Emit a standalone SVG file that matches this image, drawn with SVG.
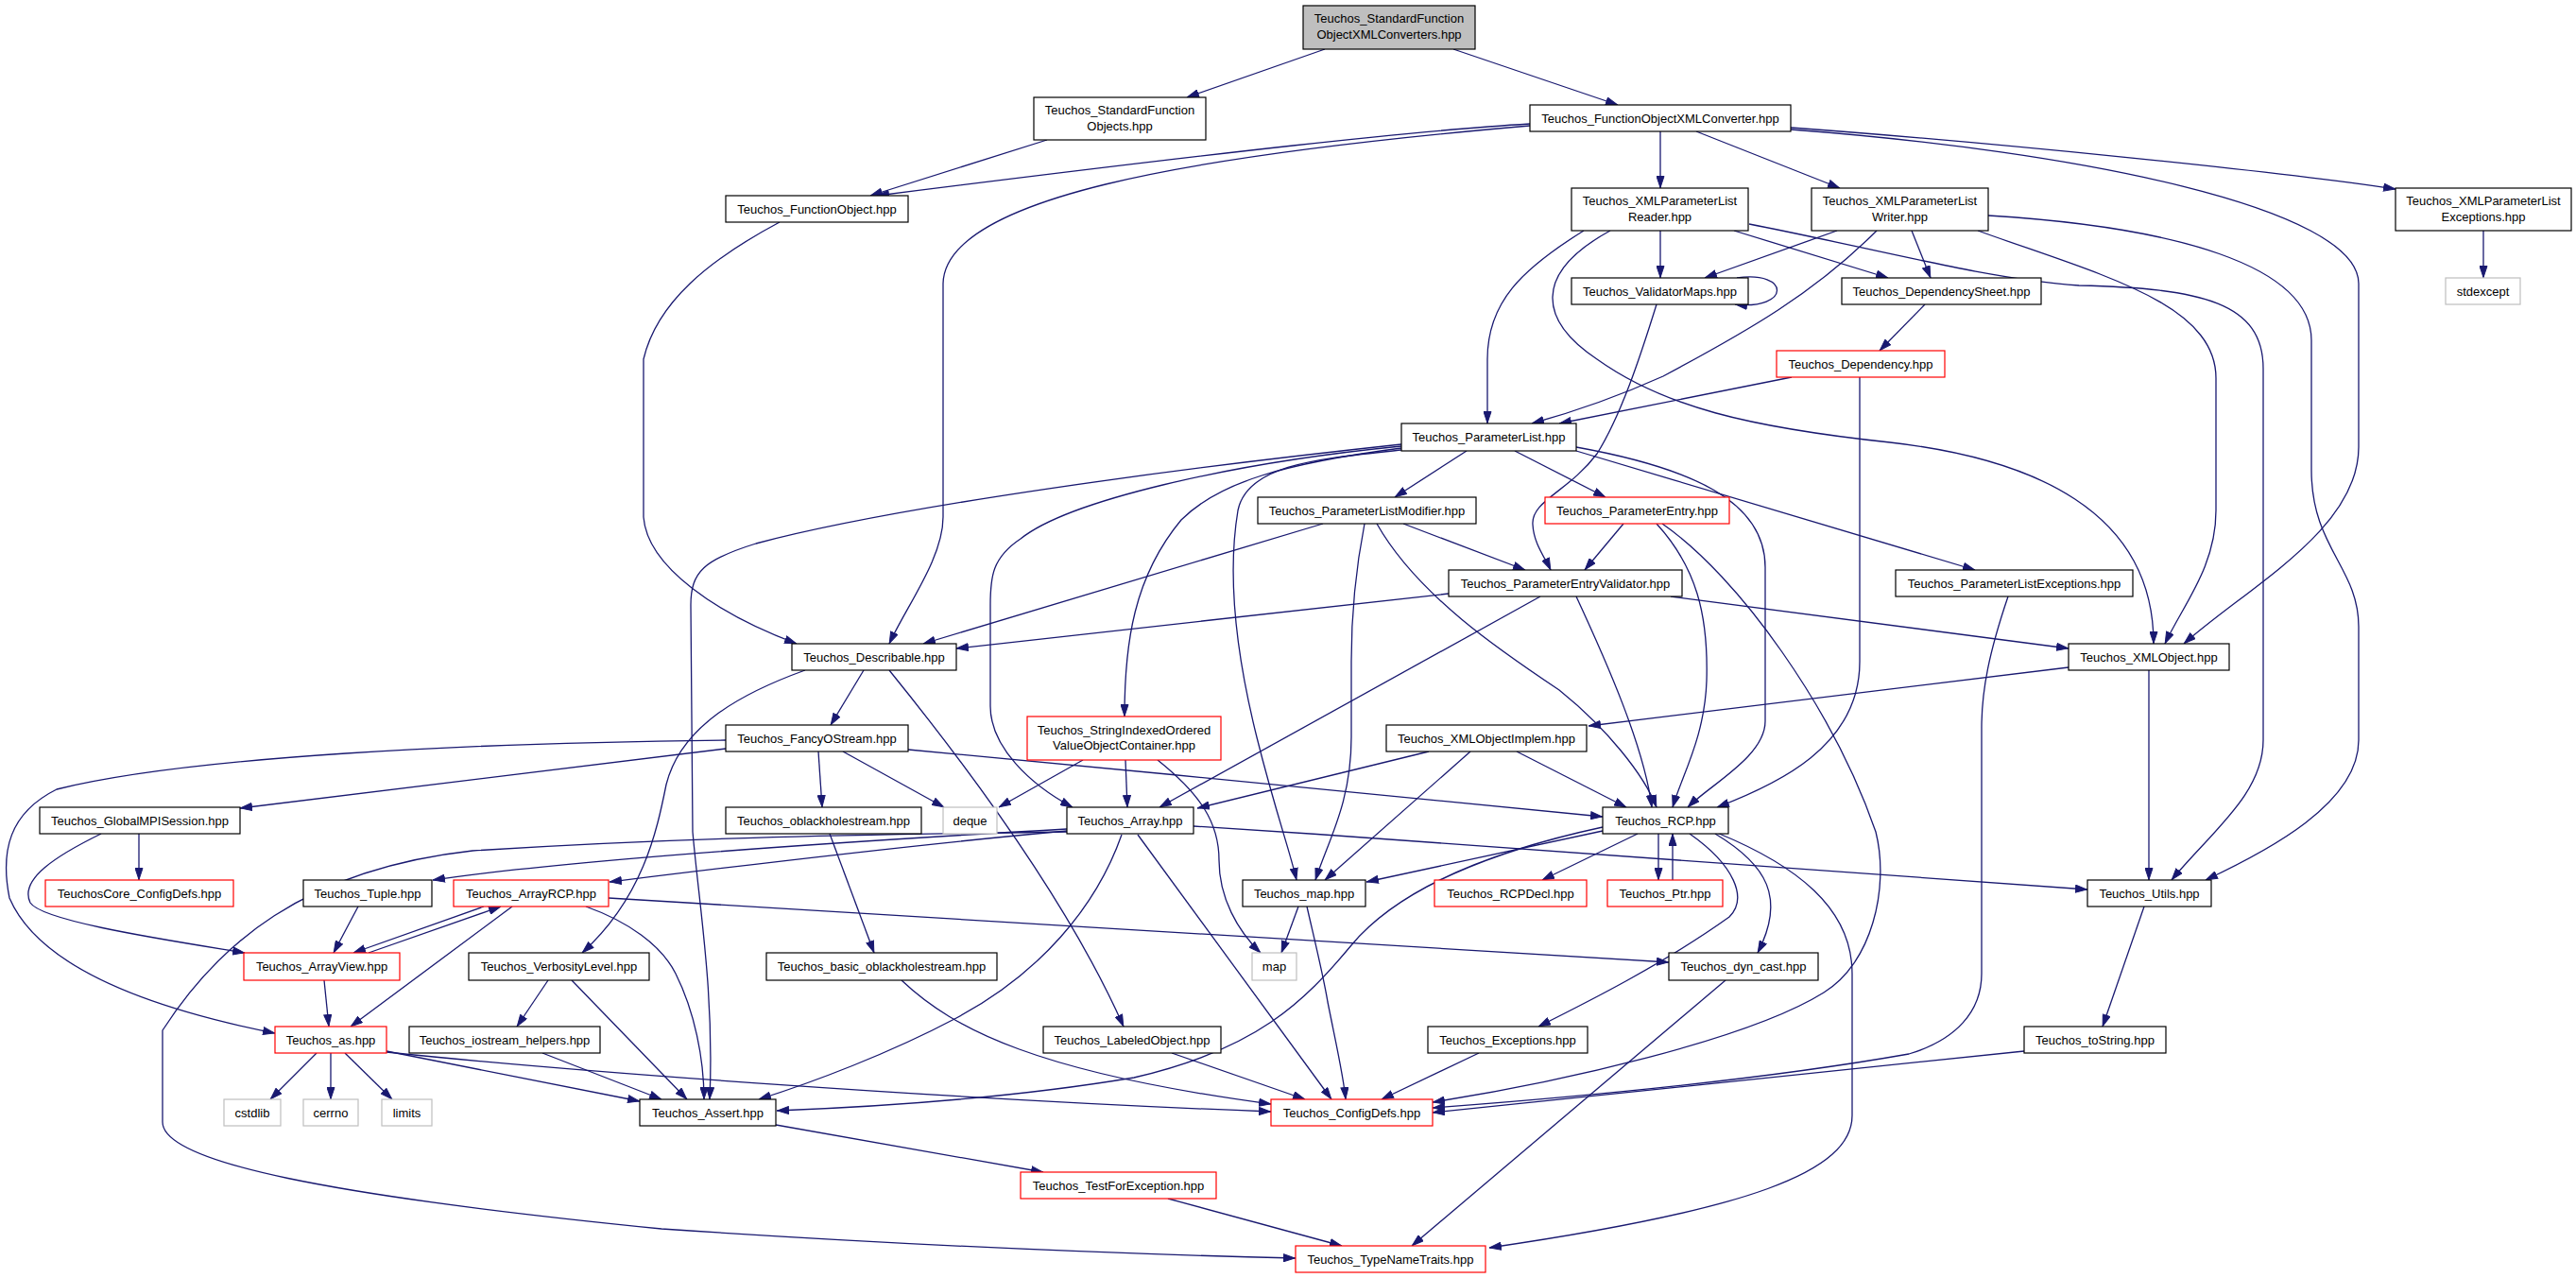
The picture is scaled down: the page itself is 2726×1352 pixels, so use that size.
<svg xmlns="http://www.w3.org/2000/svg" width="2726" height="1352" viewBox="0 0 2726 1352">
<defs>
<style>
.n rect{fill:#fff;stroke:#000;stroke-width:1.2}
.n.r rect{stroke:#ff0000}
.n.g rect{stroke:#bfbfbf}
.n.root rect{fill:#bfbfbf}
text{font-family:"Liberation Sans",Arial,Helvetica,sans-serif;font-size:13px;text-anchor:middle;fill:#000}
#edges path{fill:none;stroke:#191970;stroke-width:1.3;marker-end:url(#a)}
</style>
<marker id="a" viewBox="0 0 13 9" refX="13" refY="4.5" markerWidth="13" markerHeight="9" markerUnits="userSpaceOnUse" orient="auto">
<path d="M0.5,0.5 L12.5,4.5 L0.5,8.5 z" fill="#191970" stroke="#191970" stroke-width="1"/>
</marker>
</defs>
<rect width="2726" height="1352" fill="#fff"/>
<g id="edges">
<path d="M1402,52 L1256,103"/>
<path d="M1538,52 L1712,111"/>
<path d="M1108,148 L921,207"/>
<path d="M1619,131 C1500,138 1300,160 928,207"/>
<path d="M1619,133 C1250,165 1000,210 998,300 L998,547 C998,590 960,640 941,681"/>
<path d="M1757,139 L1757,199"/>
<path d="M1795,139 L1947,199"/>
<path d="M1895,135 C2100,150 2400,180 2535,200"/>
<path d="M1895,137 C2200,160 2496,220 2496,300 L2496,473 C2496,560 2380,620 2311,681"/>
<path d="M1676,244 C1610,285 1574,320 1574,380 L1574,448"/>
<path d="M1704,244 C1620,290 1630,340 1690,380 C1760,430 1850,452 2000,468 C2150,485 2279,540 2279,681"/>
<path d="M1757,244 L1757,294"/>
<path d="M1835,244 L1998,294"/>
<path d="M1851,237 C1980,262 2100,295 2200,302 C2330,305 2395,320 2395,390 L2395,783 C2395,840 2340,880 2298,931"/>
<path d="M1944,244 L1804,294"/>
<path d="M1986,244 C1920,310 1850,350 1760,398 C1700,425 1650,440 1621,448"/>
<path d="M2023,244 L2043,294"/>
<path d="M2093,244 C2220,290 2345,320 2345,400 L2345,540 C2345,600 2310,640 2291,681"/>
<path d="M2104,228 C2300,240 2446,280 2446,360 L2446,497 C2446,580 2496,600 2496,663 L2496,783 C2496,850 2400,900 2334,931"/>
<path d="M1838,294 C1895,286 1895,328 1836,322"/>
<path d="M1753,322 C1735,380 1715,440 1690,480 C1660,520 1620,530 1622,555 C1623,575 1635,590 1641,603"/>
<path d="M2037,322 L1989,371"/>
<path d="M1896,399 L1650,448"/>
<path d="M1968,399 L1968,700 C1968,790 1880,830 1817,854"/>
<path d="M2628,244 L2628,294"/>
<path d="M1552,477 L1476,526"/>
<path d="M1603,477 L1699,526"/>
<path d="M1668,473 C1790,495 1868,530 1868,600 L1868,763 C1868,800 1810,830 1786,854"/>
<path d="M1668,477 L2090,603"/>
<path d="M1483,470 C1250,495 950,535 800,575 C745,592 731,605 731,640 L733,880 C740,960 756,1050 751,1163"/>
<path d="M1483,472 C1300,490 1130,530 1080,570 C1050,590 1048,610 1048,640 L1048,747 C1048,790 1090,830 1135,854"/>
<path d="M1483,474 C1360,490 1290,510 1250,550 C1200,610 1190,680 1190,758"/>
<path d="M1483,476 C1400,485 1320,490 1310,540 C1300,600 1305,680 1330,780 C1350,860 1365,900 1372,931"/>
<path d="M1485,554 L1614,603"/>
<path d="M1457,554 C1500,630 1590,690 1650,730 C1700,770 1740,820 1753,854"/>
<path d="M1444,554 C1435,600 1430,650 1430,700 L1430,780 C1430,850 1405,890 1392,931"/>
<path d="M1400,554 L977,681"/>
<path d="M1718,554 L1677,603"/>
<path d="M1753,554 C1795,600 1808,650 1806,720 C1804,780 1780,820 1770,854"/>
<path d="M1759,554 C1840,610 1940,750 1985,880 C2000,940 1980,1020 1930,1050 C1850,1100 1650,1145 1516,1166"/>
<path d="M1533,628 L1012,686"/>
<path d="M1630,631 L1227,854"/>
<path d="M1668,631 C1700,700 1740,790 1748,854"/>
<path d="M1768,631 L2189,686"/>
<path d="M914,709 L879,767"/>
<path d="M941,709 Q1120,930 1189,1086"/>
<path d="M852,709 C780,735 720,770 705,830 C695,880 680,950 616,1008"/>
<path d="M866,795 L870,854"/>
<path d="M892,795 L999,854"/>
<path d="M961,793 C1200,815 1500,845 1696,864"/>
<path d="M768,783 C500,786 200,800 60,835 C10,860 0,900 10,950 C40,1020 150,1065 291,1093"/>
<path d="M768,792 L254,855"/>
<path d="M1146,804 L1057,854"/>
<path d="M1191,804 L1193,854"/>
<path d="M1225,804 C1270,840 1290,870 1290,910 C1290,950 1310,985 1334,1008"/>
<path d="M1512,795 L1267,855"/>
<path d="M1605,795 L1721,854"/>
<path d="M1556,795 L1402,931"/>
<path d="M2189,706 L1681,768"/>
<path d="M2274,709 L2274,931"/>
<path d="M147,882 L147,931"/>
<path d="M107,882 C60,905 20,930 32,955 C45,975 180,995 259,1008"/>
<path d="M1129,877 C900,890 600,910 458,931"/>
<path d="M1129,879 C950,895 750,920 645,933"/>
<path d="M1129,880 C950,883 750,884 500,900 C320,920 230,1000 172,1090 L172,1187 C172,1230 350,1265 700,1300 C1000,1320 1200,1327 1371,1331"/>
<path d="M1263,874 C1600,895 1950,925 2209,941"/>
<path d="M1187,883 C1160,960 1100,1030 1012,1077 C940,1115 860,1145 803,1163"/>
<path d="M1204,883 L1409,1163"/>
<path d="M1696,879 L1446,933"/>
<path d="M1696,875 C1580,900 1480,940 1430,1000 C1380,1060 1330,1110 1200,1140 C1050,1165 900,1172 822,1175"/>
<path d="M1733,882 L1632,931"/>
<path d="M1755,882 L1755,931"/>
<path d="M1770,931 L1770,882"/>
<path d="M1788,882 C1835,915 1850,950 1830,970 C1760,1020 1680,1060 1628,1086"/>
<path d="M1815,882 C1870,915 1890,950 1860,1008"/>
<path d="M1817,881 C1900,915 1960,960 1960,1030 L1960,1180 C1960,1240 1850,1280 1576,1320"/>
<path d="M1826,1037 L1494,1318"/>
<path d="M1565,1114 L1462,1163"/>
<path d="M2142,1112 L1516,1177"/>
<path d="M2125,631 C2105,690 2097,730 2097,770 L2097,1030 C2097,1070 2070,1100 2020,1115 C1850,1145 1650,1162 1516,1172"/>
<path d="M1374,959 L1356,1008"/>
<path d="M1383,959 C1390,990 1400,1030 1405,1060 C1415,1110 1422,1140 1424,1163"/>
<path d="M512,959 L374,1008"/>
<path d="M390,1008 L530,959"/>
<path d="M542,959 L371,1086"/>
<path d="M620,959 C665,975 700,1000 715,1030 C735,1070 745,1120 745,1163"/>
<path d="M644,950 L1766,1018"/>
<path d="M379,959 L353,1008"/>
<path d="M343,1037 L348,1086"/>
<path d="M580,1037 L547,1086"/>
<path d="M605,1037 L727,1163"/>
<path d="M574,1114 L700,1163"/>
<path d="M335,1114 L286,1163"/>
<path d="M350,1114 L350,1163"/>
<path d="M365,1114 L415,1163"/>
<path d="M409,1112 L677,1165"/>
<path d="M409,1113 C600,1133 1000,1163 1345,1176"/>
<path d="M878,882 L925,1008"/>
<path d="M954,1037 C1010,1090 1100,1135 1345,1168"/>
<path d="M1240,1114 L1381,1163"/>
<path d="M821,1190 L1104,1240"/>
<path d="M1236,1268 L1420,1318"/>
<path d="M2269,959 L2225,1086"/>
<path d="M825,235 C750,275 695,320 681,380 L681,547 C685,600 760,650 843,681"/>
</g>
<g id="n0" class="n root"><rect x="1379" y="6" width="182" height="46"/><text x="1470" y="24">Teuchos_StandardFunction</text><text x="1470" y="40.5">ObjectXMLConverters.hpp</text></g>
<g id="n1" class="n"><rect x="1094" y="103" width="182" height="45"/><text x="1185" y="121">Teuchos_StandardFunction</text><text x="1185" y="137.5">Objects.hpp</text></g>
<g id="n2" class="n"><rect x="1619" y="111" width="276" height="28"/><text x="1757" y="129.5">Teuchos_FunctionObjectXMLConverter.hpp</text></g>
<g id="n3" class="n"><rect x="768" y="207" width="193" height="28"/><text x="864.5" y="225.5">Teuchos_FunctionObject.hpp</text></g>
<g id="n4" class="n"><rect x="1663" y="199" width="187" height="45"/><text x="1756.5" y="217">Teuchos_XMLParameterList</text><text x="1756.5" y="233.5">Reader.hpp</text></g>
<g id="n5" class="n"><rect x="1917" y="199" width="187" height="45"/><text x="2010.5" y="217">Teuchos_XMLParameterList</text><text x="2010.5" y="233.5">Writer.hpp</text></g>
<g id="n6" class="n"><rect x="2535" y="199" width="186" height="45"/><text x="2628" y="217">Teuchos_XMLParameterList</text><text x="2628" y="233.5">Exceptions.hpp</text></g>
<g id="n7" class="n"><rect x="1663" y="294" width="187" height="28"/><text x="1756.5" y="312.5">Teuchos_ValidatorMaps.hpp</text></g>
<g id="n8" class="n"><rect x="1949" y="294" width="211" height="28"/><text x="2054.5" y="312.5">Teuchos_DependencySheet.hpp</text></g>
<g id="n9" class="n g"><rect x="2588" y="294" width="79" height="28"/><text x="2627.5" y="312.5">stdexcept</text></g>
<g id="n10" class="n r"><rect x="1880" y="371" width="178" height="28"/><text x="1969" y="389.5">Teuchos_Dependency.hpp</text></g>
<g id="n11" class="n"><rect x="1483" y="448" width="185" height="29"/><text x="1575.5" y="467">Teuchos_ParameterList.hpp</text></g>
<g id="n12" class="n"><rect x="1331" y="526" width="231" height="28"/><text x="1446.5" y="544.5">Teuchos_ParameterListModifier.hpp</text></g>
<g id="n13" class="n r"><rect x="1635" y="526" width="195" height="28"/><text x="1732.5" y="544.5">Teuchos_ParameterEntry.hpp</text></g>
<g id="n14" class="n"><rect x="1533" y="603" width="247" height="28"/><text x="1656.5" y="621.5">Teuchos_ParameterEntryValidator.hpp</text></g>
<g id="n15" class="n"><rect x="2006" y="603" width="251" height="28"/><text x="2131.5" y="621.5">Teuchos_ParameterListExceptions.hpp</text></g>
<g id="n16" class="n"><rect x="838" y="681" width="174" height="28"/><text x="925" y="699.5">Teuchos_Describable.hpp</text></g>
<g id="n17" class="n"><rect x="2189" y="681" width="170" height="28"/><text x="2274" y="699.5">Teuchos_XMLObject.hpp</text></g>
<g id="n18" class="n"><rect x="768" y="767" width="193" height="28"/><text x="864.5" y="785.5">Teuchos_FancyOStream.hpp</text></g>
<g id="n19" class="n r"><rect x="1087" y="758" width="205" height="46"/><text x="1189.5" y="776.5">Teuchos_StringIndexedOrdered</text><text x="1189.5" y="793">ValueObjectContainer.hpp</text></g>
<g id="n20" class="n"><rect x="1467" y="767" width="212" height="28"/><text x="1573" y="785.5">Teuchos_XMLObjectImplem.hpp</text></g>
<g id="n21" class="n"><rect x="42" y="854" width="212" height="28"/><text x="148" y="872.5">Teuchos_GlobalMPISession.hpp</text></g>
<g id="n22" class="n"><rect x="768" y="854" width="207" height="28"/><text x="871.5" y="872.5">Teuchos_oblackholestream.hpp</text></g>
<g id="n23" class="n g"><rect x="998" y="854" width="57" height="28"/><text x="1026.5" y="872.5">deque</text></g>
<g id="n24" class="n"><rect x="1129" y="854" width="134" height="28"/><text x="1196" y="872.5">Teuchos_Array.hpp</text></g>
<g id="n25" class="n"><rect x="1696" y="854" width="133" height="28"/><text x="1762.5" y="872.5">Teuchos_RCP.hpp</text></g>
<g id="n26" class="n r"><rect x="48" y="931" width="199" height="28"/><text x="147.5" y="949.5">TeuchosCore_ConfigDefs.hpp</text></g>
<g id="n27" class="n"><rect x="321" y="931" width="136" height="28"/><text x="389" y="949.5">Teuchos_Tuple.hpp</text></g>
<g id="n28" class="n r"><rect x="480" y="931" width="164" height="28"/><text x="562" y="949.5">Teuchos_ArrayRCP.hpp</text></g>
<g id="n29" class="n"><rect x="1315" y="931" width="130" height="28"/><text x="1380" y="949.5">Teuchos_map.hpp</text></g>
<g id="n30" class="n r"><rect x="1518" y="931" width="161" height="28"/><text x="1598.5" y="949.5">Teuchos_RCPDecl.hpp</text></g>
<g id="n31" class="n r"><rect x="1701" y="931" width="122" height="28"/><text x="1762" y="949.5">Teuchos_Ptr.hpp</text></g>
<g id="n32" class="n"><rect x="2209" y="931" width="131" height="28"/><text x="2274.5" y="949.5">Teuchos_Utils.hpp</text></g>
<g id="n33" class="n r"><rect x="258" y="1008" width="165" height="29"/><text x="340.5" y="1027">Teuchos_ArrayView.hpp</text></g>
<g id="n34" class="n"><rect x="496" y="1008" width="191" height="29"/><text x="591.5" y="1027">Teuchos_VerbosityLevel.hpp</text></g>
<g id="n35" class="n"><rect x="811" y="1008" width="244" height="29"/><text x="933" y="1027">Teuchos_basic_oblackholestream.hpp</text></g>
<g id="n36" class="n g"><rect x="1325" y="1008" width="47" height="29"/><text x="1348.5" y="1027">map</text></g>
<g id="n37" class="n"><rect x="1766" y="1008" width="158" height="29"/><text x="1845" y="1027">Teuchos_dyn_cast.hpp</text></g>
<g id="n38" class="n r"><rect x="291" y="1086" width="118" height="28"/><text x="350" y="1104.5">Teuchos_as.hpp</text></g>
<g id="n39" class="n"><rect x="433" y="1086" width="202" height="28"/><text x="534" y="1104.5">Teuchos_iostream_helpers.hpp</text></g>
<g id="n40" class="n"><rect x="1104" y="1086" width="188" height="28"/><text x="1198" y="1104.5">Teuchos_LabeledObject.hpp</text></g>
<g id="n41" class="n"><rect x="1511" y="1086" width="169" height="28"/><text x="1595.5" y="1104.5">Teuchos_Exceptions.hpp</text></g>
<g id="n42" class="n"><rect x="2142" y="1086" width="150" height="28"/><text x="2217" y="1104.5">Teuchos_toString.hpp</text></g>
<g id="n43" class="n g"><rect x="237" y="1163" width="60" height="28"/><text x="267" y="1181.5">cstdlib</text></g>
<g id="n44" class="n g"><rect x="321" y="1163" width="58" height="28"/><text x="350" y="1181.5">cerrno</text></g>
<g id="n45" class="n g"><rect x="404" y="1163" width="53" height="28"/><text x="430.5" y="1181.5">limits</text></g>
<g id="n46" class="n"><rect x="677" y="1163" width="144" height="28"/><text x="749" y="1181.5">Teuchos_Assert.hpp</text></g>
<g id="n47" class="n r"><rect x="1345" y="1163" width="171" height="28"/><text x="1430.5" y="1181.5">Teuchos_ConfigDefs.hpp</text></g>
<g id="n48" class="n r"><rect x="1080" y="1240" width="207" height="28"/><text x="1183.5" y="1258.5">Teuchos_TestForException.hpp</text></g>
<g id="n49" class="n r"><rect x="1371" y="1318" width="201" height="28"/><text x="1471.5" y="1336.5">Teuchos_TypeNameTraits.hpp</text></g>
</svg>
